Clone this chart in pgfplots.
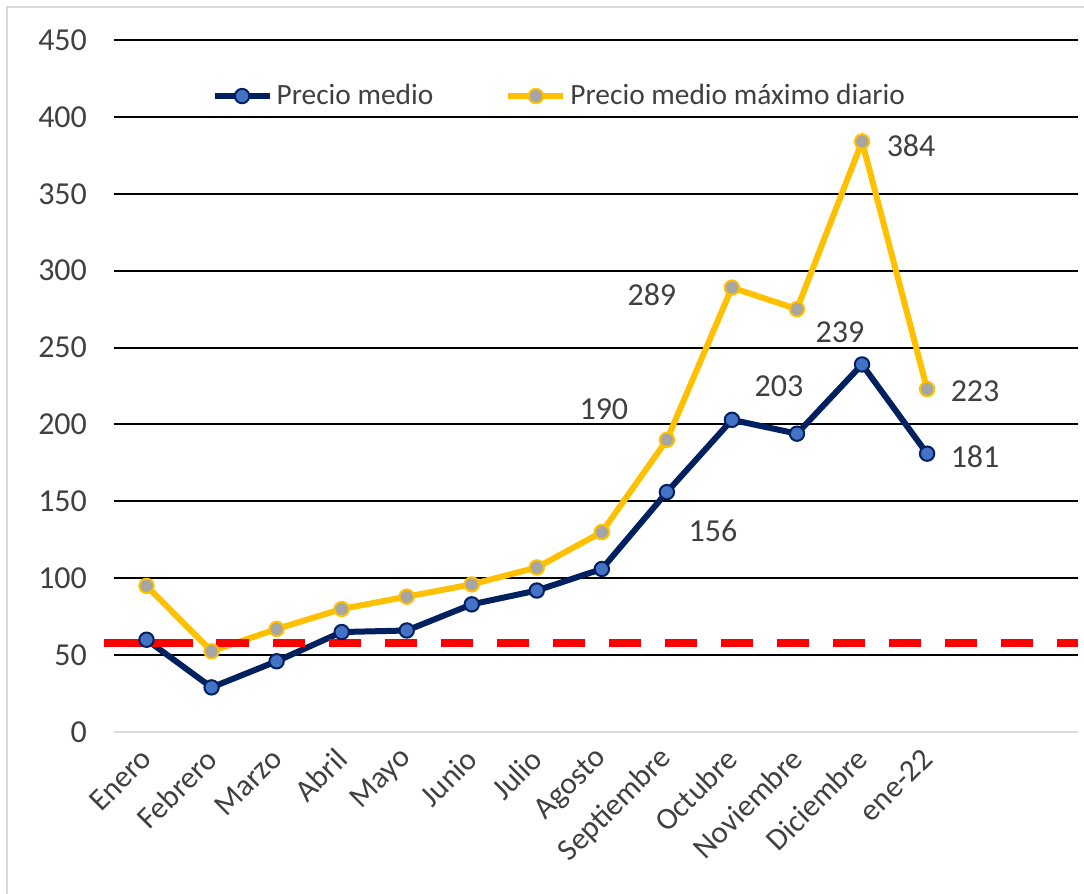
\documentclass[border=0pt]{standalone}
\usepackage{fontspec}
\setmainfont{Carlito}
\usepackage{pgfplots}
\pgfplotsset{compat=1.18}
\definecolor{navy}{HTML}{002060}
\definecolor{mblue}{HTML}{4472C4}
\definecolor{gold}{HTML}{FFC000}
\definecolor{mgray}{HTML}{A5A5A5}
\definecolor{txt}{HTML}{404040}
\definecolor{border}{HTML}{D9D9D9}
\begin{document}
\begin{tikzpicture}
\useasboundingbox (-57pt,-81pt) rectangle (485pt,366pt);
\draw[border, line width=1pt] (-53.5pt,-81pt) -- (-53.5pt,362.5pt) -- (485pt,362.5pt);
\begin{axis}[
  scale only axis, width=482pt, height=346pt,
  xmin=-0.5, xmax=14.32, ymin=0, ymax=450,
  axis line style={draw=none},
  tick style={draw=none}, major tick length=0pt,
  ytick={50,100,...,450},
  extra y ticks={0},
  extra y tick style={grid style={line width=1pt, color=border}},
  ymajorgrids, grid style={line width=1pt, color=black},
  xtick={0,1,...,12},
  xticklabels={Enero,Febrero,Marzo,Abril,Mayo,Junio,Julio,Agosto,Septiembre,Octubre,Noviembre,Diciembre,ene-22},
  /pgf/number format/assume math mode=true,
  tick label style={font=\fontsize{16}{18}\selectfont, text=txt},
  yticklabel style={xshift=-10pt},
  xticklabel style={xshift=2.5pt, yshift=-8.5pt, rotate=45, anchor=east, font=\fontsize{15.5}{18}\selectfont},
  clip=false,
  legend style={draw=none, fill=none, at={(0.463,0.919)}, anchor=center,
    font=\fontsize{14.7}{17}\selectfont, text=txt,
    legend columns=2,
    /tikz/every even column/.append style={column sep=34pt}},
  legend image code/.code={\draw[mark repeat=2,mark phase=2,#1] plot coordinates {(0pt,0pt) (13.75pt,0pt) (27.5pt,0pt)};},
]
\addplot[navy, line width=3pt, mark=*, mark size=3.6pt, mark options={fill=mblue, draw=navy, line width=1pt}]
 coordinates {(0,60) (1,29) (2,46) (3,65) (4,66) (5,83) (6,92) (7,106) (8,156) (9,203) (10,194) (11,239) (12,181)};
\addlegendentry{Precio medio}
\addplot[gold, line width=3pt, mark=*, mark size=3.6pt, mark options={fill=mgray, draw=gold, line width=1pt}]
 coordinates {(0,95) (1,52.5) (2,67) (3,80) (4,88) (5,96) (6,107) (7,130) (8,190) (9,289) (10,275) (11,384) (12,223)};
\addlegendentry{Precio medio máximo diario}
\addplot[red, line width=4pt, dash pattern=on 16pt off 12pt, forget plot] coordinates {(-0.646,58) (14.32,58)};
\addplot[red, line width=4pt, forget plot] coordinates {(-0.646,58) (0.708,58)};
\begin{scope}[every node/.style={font=\fontsize{16}{18}\selectfont, text=txt}]
\node at (axis cs:11.754,381) {384};
\node at (axis cs:7.769,284.1) {289};
\node at (axis cs:10.662,260.1) {239};
\node at (axis cs:9.723,225) {203};
\node at (axis cs:7.031,210) {190};
\node at (axis cs:8.708,130.7) {156};
\node at (axis cs:12.738,221.7) {223};
\node at (axis cs:12.738,178.8) {181};
\end{scope}
\end{axis}
\end{tikzpicture}
\end{document}
